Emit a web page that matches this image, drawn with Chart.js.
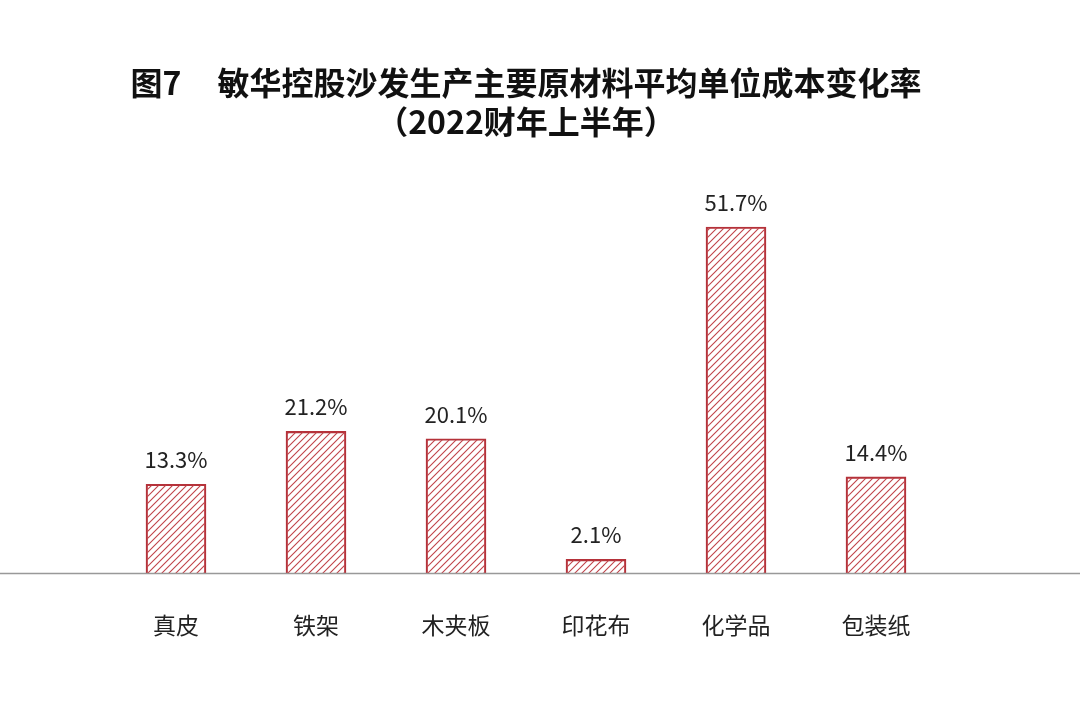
<!DOCTYPE html>
<html><head><meta charset="utf-8">
<script src="https://cdn.jsdelivr.net/npm/chart.js@4/dist/chart.umd.min.js"></script>
<style>body{margin:0;background:#fff}#wrap{width:1080px;height:707px}</style>
</head><body><div id="wrap"><canvas id="c"></canvas></div>
<script>
const categories = ['真皮', '铁架', '木夹板', '印花布', '化学品', '包装纸'];
const values = [13.3, 21.2, 20.1, 2.1, 51.7, 14.4];

function hatch() {
  const p = document.createElement('canvas');
  p.width = 7; p.height = 7;
  const g = p.getContext('2d');
  g.strokeStyle = '#c0434a'; g.lineWidth = 1.1;
  g.beginPath();
  g.moveTo(0, 7); g.lineTo(7, 0);
  g.moveTo(-1, 1); g.lineTo(1, -1);
  g.moveTo(6, 8); g.lineTo(8, 6);
  g.stroke();
  return document.getElementById('c').getContext('2d').createPattern(p, 'repeat');
}

const baseline = {
  id: 'baseline',
  afterDatasetsDraw(chart) {
    const c = chart.ctx, y = chart.scales.y.getPixelForValue(0);
    c.save(); c.strokeStyle = '#999'; c.lineWidth = 1.5;
    c.beginPath(); c.moveTo(0, y); c.lineTo(chart.width, y); c.stroke();
    c.fillStyle = '#222'; c.font = '22px "Noto Sans CJK SC"'; c.textAlign = 'center';
    chart.getDatasetMeta(0).data.forEach((b, i) => {
      c.fillText(values[i].toFixed(1) + '%', b.x, b.y - 16);
    });
    c.restore();
  }
};

new Chart(document.getElementById('c'), {
  type: 'bar',
  data: { labels: categories, datasets: [{ data: values, backgroundColor: hatch(), borderColor: '#b5323a', borderWidth: 1.5, barThickness: 60 }] },
  plugins: [baseline],
  options: {
    responsive: true, maintainAspectRatio: false, animation: false,
    layout: { padding: { left: 106, right: 134, top: 0, bottom: 38 } },
    plugins: {
      legend: { display: false }, tooltip: { enabled: false },
      title: { display: true, text: ['图7     敏华控股沙发生产主要原材料平均单位成本变化率', '（2022财年上半年）'],
        color: '#111', font: { family: '"Noto Sans CJK SC"', size: 32, weight: 'bold' }, padding: { top: 64, bottom: 44 }, lineHeight: 1.3 }
    },
    scales: {
      x: { grid: { display: false }, border: { display: false },
        ticks: { color: '#222', padding: 30, font: { family: '"Noto Sans CJK SC"', size: 23 } } },
      y: { display: false, min: 0, max: 58 }
    }
  }
});
</script></body></html>
